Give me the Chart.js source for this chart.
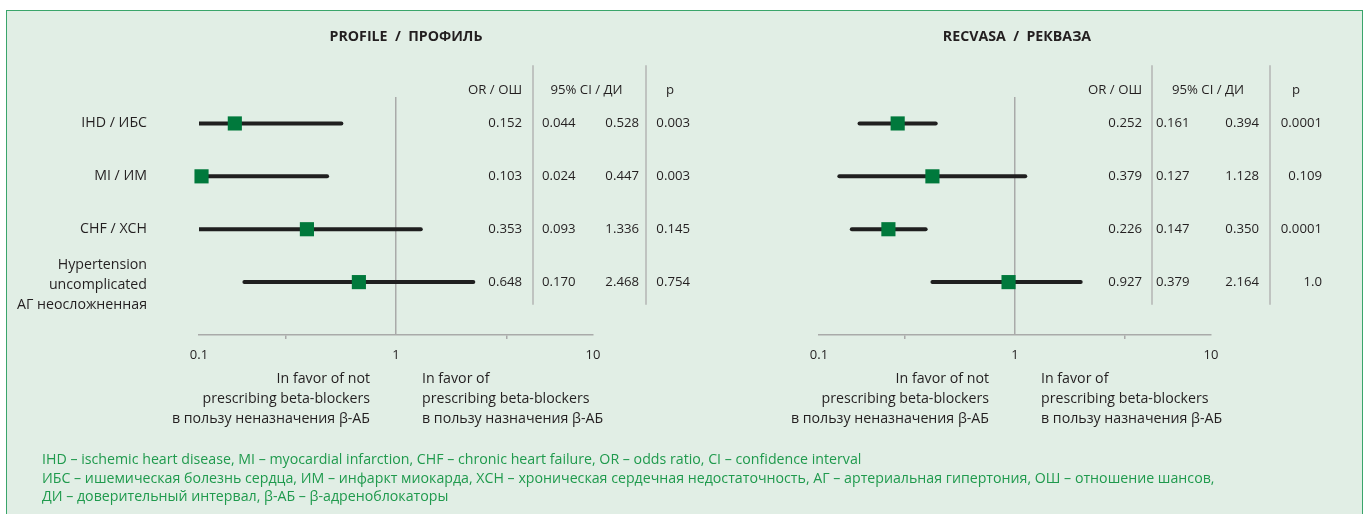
<!DOCTYPE html>
<html>
<head>
<meta charset="utf-8">
<script src="https://cdn.jsdelivr.net/npm/chart.js@4.4.1/dist/chart.umd.min.js"></script>
<style>
  html, body { margin: 0; padding: 0; background: #ffffff; width: 1370px; height: 514px; overflow: hidden; }
  #panel { position: absolute; left: 6px; top: 10px; width: 1357px; height: 530px; background: #e1eee5;
           border: 1.5px solid #3aa56b; box-sizing: border-box; }
  canvas { position: absolute; left: 0; top: 0; }
  #note { position: absolute; left: 42px; top: 450px; color: #1f9a4d; font-family: "Open Sans", sans-serif;
          font-size: 14.2px; line-height: 18.5px; white-space: nowrap; }
</style>
</head>
<body>
<div id="panel"></div>
<canvas id="profile" width="1370" height="514"></canvas>
<canvas id="recvasa" width="1370" height="514"></canvas>
<div id="note">
  IHD – ischemic heart disease, MI – myocardial infarction, CHF – chronic heart failure, OR – odds ratio, CI – confidence interval<br>
  ИБС – ишемическая болезнь сердца, ИМ – инфаркт миокарда, ХСН – хроническая сердечная недостаточность, АГ – артериальная гипертония, ОШ – отношение шансов,<br>
  ДИ – доверительный интервал, β-АБ – β-адреноблокаторы
</div>
<script>
// Row categories (shared by both forest plots)
const categories = ['IHD / ИБС', 'MI / ИМ', 'CHF / ХСН', ['Hypertension', 'uncomplicated', 'АГ неосложненная']];

// PROFILE registry: odds ratios, 95% CI bounds and p-values
const profileOR   = [0.152, 0.103, 0.353, 0.648];
const profileLow  = [0.044, 0.024, 0.093, 0.170];
const profileHigh = [0.528, 0.447, 1.336, 2.468];
const profileP    = ['0.003', '0.003', '0.145', '0.754'];

// RECVASA registry
const recvasaOR   = [0.252, 0.379, 0.226, 0.927];
const recvasaLow  = [0.161, 0.127, 0.147, 0.379];
const recvasaHigh = [0.394, 1.128, 0.350, 2.164];
const recvasaP    = ['0.0001', '0.109', '0.0001', '1.0'];

// Log axis ticks
const axisTicks  = [0.1, 0.275, 1, 3.65, 10];
const axisLabels = ['0.1', '', '1', '', '10'];
const labeledTicks = [0.1, 1, 10];

const headers = ['OR / ОШ', '95% CI / ДИ', 'p'];
const favorLeft  = ['In favor of not', 'prescribing beta-blockers', 'в пользу неназначения β-АБ'];
const favorRight = ['In favor of', 'prescribing beta-blockers', 'в пользу назначения β-АБ'];

const FONT = '"Open Sans", Lato, sans-serif';
const TEXT = '#231f20';
const GRID = '#a9aaa9';

// Draws title, row labels, result table and direction captions around the plot
const tablePlugin = {
  id: 'forestTable',
  afterDraw(chart, args, o) {
    const ctx = chart.ctx;
    const x = chart.scales.x, y = chart.scales.y;
    const ref = x.getPixelForValue(1);
    const c = o.cols;
    ctx.save();
    ctx.fillStyle = TEXT;
    ctx.textBaseline = 'middle';

    // title
    ctx.font = 'bold 14.2px ' + FONT;
    ctx.textAlign = 'center';
    ctx.fillText(o.title, o.titleX, 37);

    // separators
    ctx.strokeStyle = '#b3b4b3';
    ctx.lineWidth = 1.5;
    const top = y.getPixelForValue(-1.1), bot = y.getPixelForValue(3.43);
    [c.sep1, c.sep2].forEach(sx => {
      ctx.beginPath(); ctx.moveTo(sx, top); ctx.lineTo(sx, bot); ctx.stroke();
    });

    ctx.font = '13.2px ' + FONT;
    const hy = y.getPixelForValue(-0.63);
    ctx.textAlign = 'right';  ctx.fillText(headers[0], c.or, hy);
    ctx.textAlign = 'center'; ctx.fillText(headers[1], (c.sep1 + c.sep2) / 2 - 3, hy);
    ctx.fillText(headers[2], c.pHead, hy);

    o.or.forEach((v, i) => {
      const ry = y.getPixelForValue(i);
      ctx.font = '13.2px ' + FONT;
      ctx.textAlign = 'right'; ctx.fillText(v.toFixed(3), c.or, ry);
      ctx.textAlign = 'left';  ctx.fillText(o.low[i].toFixed(3), c.lo, ry);
      ctx.textAlign = 'right'; ctx.fillText(o.high[i].toFixed(3), c.hi, ry);
      ctx.fillText(o.p[i], c.p, ry);
      if (o.showLabels) {
        ctx.font = '14.2px ' + FONT;
        const lab = categories[i];
        const lines = Array.isArray(lab) ? lab : [lab];
        const lh = 20, off = lines.length > 1 ? 3 : 0;
        lines.forEach((t, k) => ctx.fillText(t, 147, ry + off + (k - (lines.length - 1) / 2) * lh));
      }
    });

    // direction captions under the axis
    ctx.font = '14.2px ' + FONT;
    favorLeft.forEach((t, k) => {
      ctx.textAlign = 'right'; ctx.fillText(t, ref - 26, 379 + k * 20);
    });
    favorRight.forEach((t, k) => {
      ctx.textAlign = 'left'; ctx.fillText(t, ref + 26, 379 + k * 20);
    });
    ctx.restore();
  }
};

function forest(id, or, low, high, p, opts) {
  const datasets = [{
    data: or.map((v, i) => ({ x: v, y: i })),
    pointStyle: 'rect', pointRadius: 10, pointHoverRadius: 10,
    backgroundColor: '#00793c', borderWidth: 0, showLine: false, clip: false
  }];
  low.forEach((lo, i) => datasets.push({
    data: [{ x: lo, y: i }, { x: high[i], y: i }],
    showLine: true, borderColor: '#1f1f1f', borderWidth: 4,
    borderCapStyle: 'round', pointRadius: 0, pointHoverRadius: 0
  }));
  return new Chart(document.getElementById(id), {
    type: 'scatter',
    data: { datasets },
    plugins: [tablePlugin],
    options: {
      responsive: false, animation: false, devicePixelRatio: 1,
      layout: { padding: opts.padding },
      plugins: {
        legend: { display: false }, tooltip: { enabled: false },
        forestTable: { title: opts.title, titleX: opts.titleX, cols: opts.cols, or, low, high, p, showLabels: opts.showLabels }
      },
      scales: {
        x: {
          type: 'logarithmic', min: 0.1, max: 10,
          afterBuildTicks: s => { s.ticks = axisTicks.map(v => ({ value: v })); },
          afterFit: s => { s.height = 30; },
          ticks: {
            autoSkip: false, maxRotation: 0, padding: 8, color: TEXT,
            font: { family: FONT, size: 13 },
            callback: (v, i) => axisLabels[i]
          },
          grid: {
            lineWidth: 1.5, tickLength: 4,
            color: c => (c.tick && c.tick.value === 1) ? GRID : 'rgba(0,0,0,0)',
            tickColor: c => (c.tick && !labeledTicks.includes(c.tick.value)) ? GRID : 'rgba(0,0,0,0)'
          },
          border: { display: true, color: GRID, width: 1.5 }
        },
        y: { type: 'linear', min: -0.5, max: 4, reverse: true, display: false }
      }
    }
  });
}

function draw() {
  forest('profile', profileOR, profileLow, profileHigh, profileP, {
    title: 'PROFILE  /  ПРОФИЛЬ', titleX: 406, showLabels: true,
    padding: { left: 199, right: 1370 - 593, top: 97, bottom: 514 - 335 - 30 },
    cols: { or: 522, sep1: 533, lo: 542, hi: 639, sep2: 646, p: 690, pHead: 670 }
  });
  forest('recvasa', recvasaOR, recvasaLow, recvasaHigh, recvasaP, {
    title: 'RECVASA  /  РЕКВАЗА', titleX: 1017, showLabels: false,
    padding: { left: 819, right: 1370 - 1211, top: 97, bottom: 514 - 335 - 30 },
    cols: { or: 1142, sep1: 1152, lo: 1156, hi: 1259, sep2: 1270, p: 1322, pHead: 1296 }
  });
}

Promise.all([
  document.fonts.load('13px "Open Sans"'), document.fonts.load('bold 13px "Open Sans"')
]).then(draw, draw);
</script>
</body>
</html>
